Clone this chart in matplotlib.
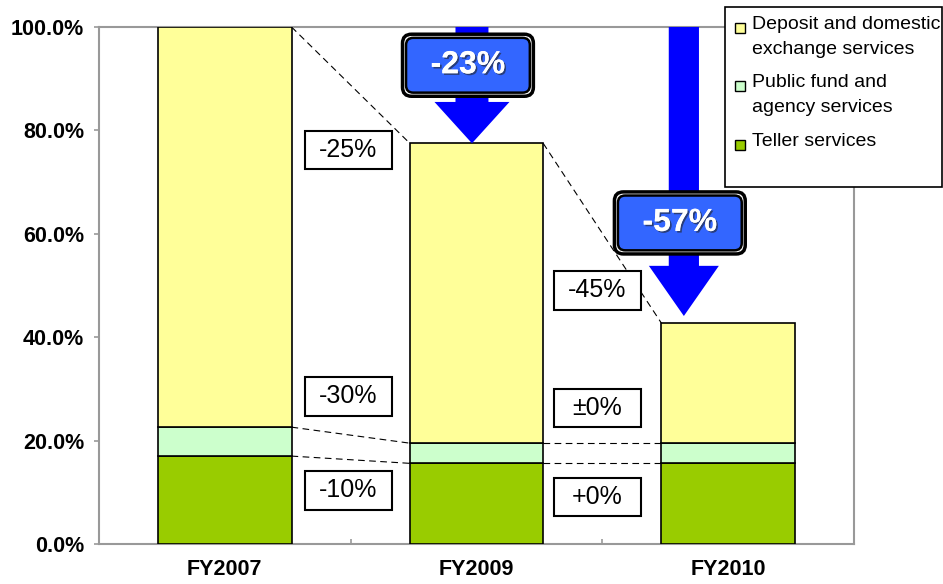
import matplotlib
matplotlib.use("Agg")
import matplotlib.pyplot as plt
from matplotlib.patches import Rectangle, FancyBboxPatch, Polygon
import matplotlib.patheffects as pe

plt.rcParams['font.family'] = ['Liberation Sans', 'DejaVu Sans']

years = ["FY2007", "FY2009", "FY2010"]
teller = [17.0, 15.6, 15.6]
public_fund = [5.6, 3.9, 3.9]
deposit = [77.4, 58.0, 23.2]
series_names = ["Deposit and domestic\nexchange services",
                "Public fund and\nagency services",
                "Teller services"]
colors = ["#FFFF99", "#CCFFCC", "#99CC00"]

# change labels between columns: (x position, y position, text)
change_labels = [(0.49, 76.2, "-25%"), (0.49, 28.6, "-30%"), (0.49, 10.4, "-10%"),
                 (1.48, 49.1, "-45%"), (1.48, 26.3, "\u00b10%"), (1.48, 9.1, "+0%")]
total_changes = ["-23%", "-57%"]

fig = plt.figure(figsize=(9.43, 5.84), dpi=100)
ax = fig.add_axes([0.105, 0.0685, 0.8006, 0.8853])

x = range(len(years))
bw = 0.53
bottom2 = [t + p for t, p in zip(teller, public_fund)]
totals = [b + d for b, d in zip(bottom2, deposit)]
ax.bar(x, teller, bw, color=colors[2], edgecolor="black", linewidth=1.2, zorder=3)
ax.bar(x, public_fund, bw, bottom=teller, color=colors[1], edgecolor="black", linewidth=1.2, zorder=3)
ax.bar(x, deposit, bw, bottom=bottom2, color=colors[0], edgecolor="black", linewidth=1.2, zorder=3)

# dashed connectors between neighbouring columns
for i in range(len(years) - 1):
    for lvl in (teller, bottom2, totals):
        ax.plot([i + bw / 2, i + 1 - bw / 2], [lvl[i], lvl[i + 1]],
                color="black", lw=0.8, ls=(0, (6, 4)), zorder=2)

ax.set_xlim(-0.5, 2.5)
ax.set_ylim(0, 100)
ax.set_yticks(range(0, 101, 20))
ax.set_yticklabels(["%.1f%%" % v for v in range(0, 101, 20)], fontsize=15.5, fontweight="bold")
ax.set_xticks(list(x))
ax.set_xticklabels(years, fontsize=15.5, fontweight="bold")
ax.set_xticks([0.5, 1.5], minor=True)
ax.tick_params(axis="x", which="major", length=0, pad=11)
ax.tick_params(axis="x", which="minor", direction="in", length=3.6, color="#999999", width=1.2)
ax.tick_params(axis="y", direction="out", length=3.6, color="#999999", width=1.2, pad=7)
for s in ax.spines.values():
    s.set_color("#999999")
    s.set_linewidth(1.5)

# boxed change labels
bx_w, bx_h = 0.346, 7.5
for lx, ly, txt in change_labels:
    ax.add_patch(Rectangle((lx - bx_w / 2, ly - bx_h / 2), bx_w, bx_h,
                           facecolor="white", edgecolor="black", lw=1.5, zorder=5))
    ax.text(lx, ly, txt, ha="center", va="center", fontsize=18, zorder=6)

# blue arrows showing total change
arrows = [
    dict(x=0.982, hw=0.0655, HW=0.149, tip=totals[1], head=8.0),
    dict(x=1.824, hw=0.060, HW=0.139, tip=totals[2] + 1.4, head=9.7),
]
for a in arrows:
    cx, hw, HW, tip, hl = a["x"], a["hw"], a["HW"], a["tip"], a["head"]
    pts = [(cx - hw, 100), (cx + hw, 100), (cx + hw, tip + hl), (cx + HW, tip + hl),
           (cx, tip), (cx - HW, tip + hl), (cx - hw, tip + hl)]
    ax.add_patch(Polygon(pts, closed=True, facecolor="#0000FF", edgecolor="none",
                         zorder=7, clip_on=False))

asp = (0.8006 * 943 / 3) / (0.8853 * 584 / 100)
badges = [(0.966, 92.6), (1.808, 62.1)]
for (cx, cy), txt in zip(badges, total_changes):
    w, h = 0.52, 12.0
    r = 0.036
    ax.add_patch(FancyBboxPatch((cx - w / 2, cy - h / 2), w, h,
                                boxstyle="round,pad=0,rounding_size=%f" % r,
                                mutation_aspect=asp, facecolor="white",
                                edgecolor="black", lw=2.5, zorder=8))
    dx, dy = 0.014, 0.7
    ax.add_patch(FancyBboxPatch((cx - w / 2 + dx, cy - h / 2 + dy), w - 2 * dx, h - 2 * dy,
                                boxstyle="round,pad=0,rounding_size=%f" % (r * 0.8),
                                mutation_aspect=asp, facecolor="#3366FF",
                                edgecolor="black", lw=1.8, zorder=9))
    ax.text(cx, cy, txt, ha="center", va="center", fontsize=23, fontweight="bold",
            color="white", zorder=10,
            path_effects=[pe.withSimplePatchShadow(offset=(1.2, -1.2), shadow_rgbFace="#222222", alpha=0.6),
                          pe.Normal()])

# legend drawn in figure pixels
W, H = 943.0, 584.0
fig.patches.append(Rectangle((725 / W, 1 - 187 / H), 217 / W, 180 / H,
                             transform=fig.transFigure, facecolor="white",
                             edgecolor="black", lw=1.2, zorder=20))
entry_y = [28, 86, 145]
for name, col, ey in zip(series_names, colors, entry_y):
    fig.patches.append(Rectangle((735 / W, 1 - (ey + 5) / H), 10 / W, 10 / H,
                                 transform=fig.transFigure, facecolor=col,
                                 edgecolor="black", lw=1, zorder=21))
    fig.text(752 / W, 1 - (ey - 12) / H, name, ha="left", va="top", fontsize=14,
             linespacing=1.62, zorder=22)

fig.savefig("out.png", dpi=100)
